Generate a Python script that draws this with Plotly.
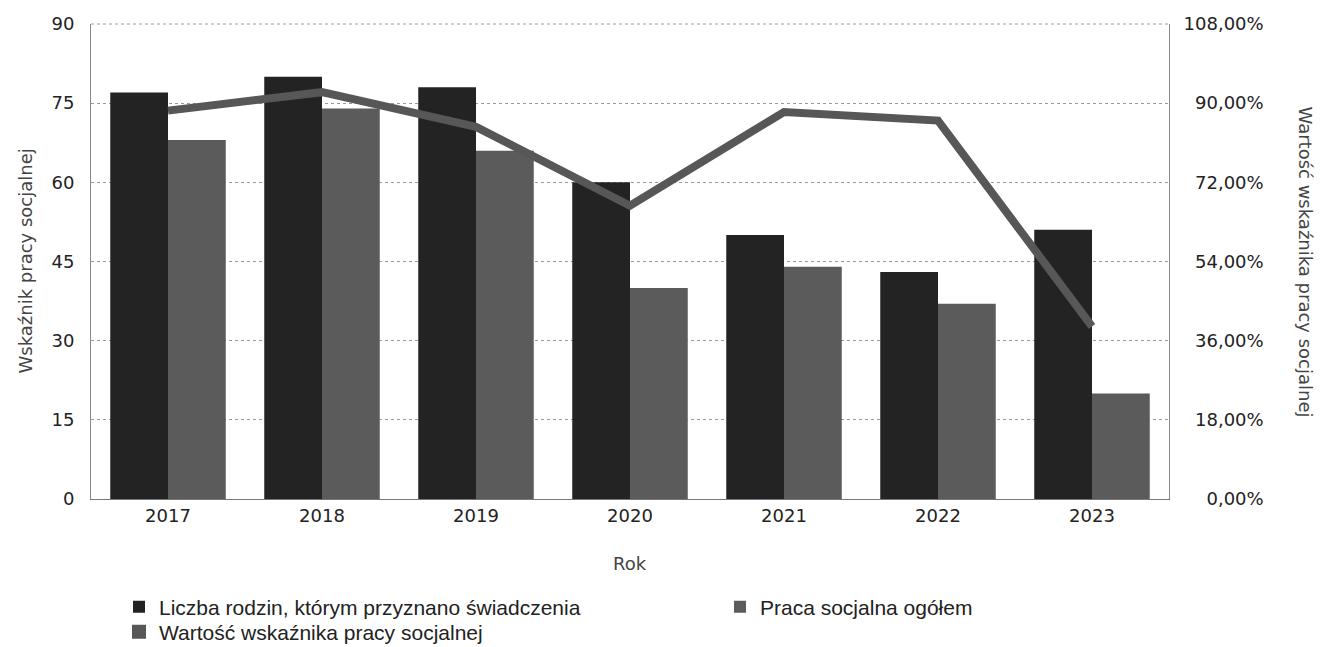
import plotly.graph_objects as go

years = ["2017", "2018", "2019", "2020", "2021", "2022", "2023"]
rodziny = [77, 80, 78, 60, 50, 43, 51]
praca = [68, 74, 66, 40, 44, 37, 20]
wskaznik = [88.31, 92.50, 84.62, 66.67, 88.00, 86.05, 39.22]

left_ticks = [0, 15, 30, 45, 60, 75, 90]
right_ticks = [0, 18, 36, 54, 72, 90, 108]

name_a = "Liczba rodzin, którym przyznano świadczenia"
name_b = "Praca socjalna ogółem"
name_c = "Wartość wskaźnika pracy socjalnej"
title_left = "Wskaźnik pracy socjalnej"
title_x = "Rok"

DARK = "#232323"
MID = "#5b5b5b"
LINE = "#575757"

def fmt_pct(v):
    s = f"{v:.2f}".replace(".", ",") + "%"
    pad = 7 - len(s)
    return "\u2007" * pad + s

fig = go.Figure()
fig.add_trace(go.Bar(x=years, y=rodziny, name=name_a, legend="legend",
                     marker=dict(color=DARK, line=dict(width=0))))
fig.add_trace(go.Bar(x=years, y=praca, name=name_b, legend="legend2",
                     marker=dict(color=MID, line=dict(width=0))))
fig.add_trace(go.Scatter(x=years, y=wskaznik, name=name_c, yaxis="y2", mode="lines",
                         line=dict(color=LINE, width=8), showlegend=False))
# legend proxy with a square symbol
fig.add_trace(go.Scatter(x=[None], y=[None], name=name_c, yaxis="y2", mode="markers",
                         legend="legend3",
                         marker=dict(symbol="square", size=14, color=LINE), showlegend=True))

tickfont = dict(family="DejaVu Sans", size=18, color="#222")
titlefont = dict(family="DejaVu Sans", size=18, color="#444")
legfont = dict(family="Liberation Sans", size=21, color="#222")
leg_common = dict(xref="container", yref="container", xanchor="left", yanchor="middle",
                  bgcolor="rgba(0,0,0,0)", borderwidth=0, font=legfont, itemwidth=30)

fig.update_layout(
    width=1321, height=647,
    margin=dict(l=91, r=152, t=24, b=148, autoexpand=False),
    paper_bgcolor="white", plot_bgcolor="white",
    barmode="group", bargap=0.25, bargroupgap=0,
    font=dict(family="DejaVu Sans", color="#222"),
    xaxis=dict(
        tickfont=tickfont, showgrid=False, showline=True, linecolor="#777", linewidth=1,
        ticks="", mirror=False, automargin=False,
    ),
    yaxis=dict(
        range=[0, 90], tickvals=left_ticks, tickfont=tickfont,
        showgrid=True, gridcolor="#9a9a9a", griddash="dot", gridwidth=1,
        showline=True, linecolor="#888", linewidth=1, zeroline=False, ticks="",
        ticklabelstandoff=12, automargin=False,
    ),
    yaxis2=dict(
        overlaying="y", side="right", range=[0, 108],
        tickvals=right_ticks, ticktext=[fmt_pct(v) for v in right_ticks],
        tickfont=tickfont, showgrid=False, showline=True, linecolor="#888", linewidth=1,
        zeroline=False, ticks="", ticklabelstandoff=10, automargin=False,
    ),
    legend=dict(x=119 / 1321, y=1 - 607 / 647, **leg_common),
    legend2=dict(x=720 / 1321, y=1 - 607 / 647, **leg_common),
    legend3=dict(x=119 / 1321, y=1 - 632 / 647, **leg_common),
    annotations=[
        dict(text=name_c, textangle=90, x=(1305 - 91) / 1078, y=0.5, xref="paper", yref="paper",
             xanchor="center", yanchor="middle", showarrow=False, font=titlefont),
        dict(text=title_left, textangle=-90, x=(25 - 91) / 1078, y=0.5, xref="paper", yref="paper",
             xanchor="center", yanchor="middle", showarrow=False, font=titlefont),
        dict(text=title_x, x=0.5, y=-(563 - 499) / 475, xref="paper", yref="paper",
             xanchor="center", yanchor="middle", showarrow=False, font=titlefont),
    ],
    shapes=[dict(type="line", xref="paper", yref="paper", x0=0, x1=1, y0=1, y1=1,
                 line=dict(color="#9a9a9a", width=1, dash="dot"))],
)

fig.write_html("out.html", config={"displayModeBar": False},
               post_script="document.body.style.margin='0';")
